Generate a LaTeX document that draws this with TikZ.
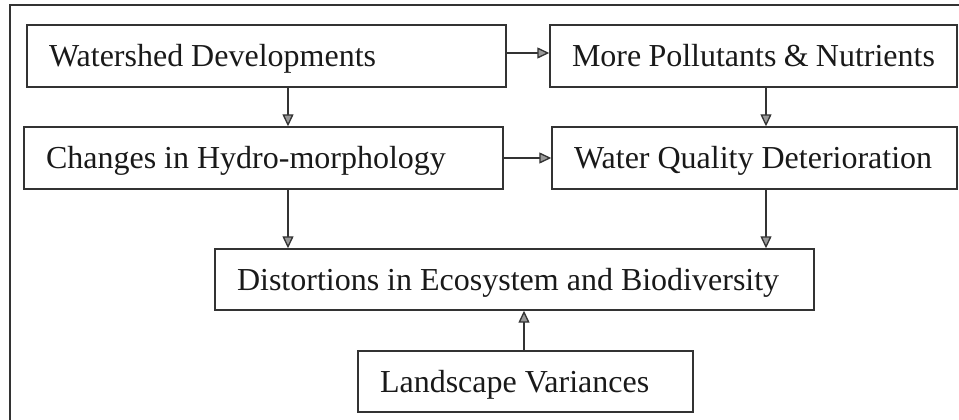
\documentclass[tikz,border=0pt]{standalone}
\usepackage{fontspec}
\setmainfont{Liberation Serif}
\usetikzlibrary{arrows.meta}
\definecolor{ink}{gray}{0.2}
\begin{document}
\begin{tikzpicture}[x=1pt,y=-1pt,
  box/.style={draw=ink, line width=1.4pt, rectangle, inner xsep=22pt,
    inner ysep=0pt, minimum height=62pt, align=flush left,
    text height=21pt, text depth=0pt, text=black!90,
    font=\fontsize{32}{36}\selectfont},
  arr/.style={draw=ink, line width=1.3pt,
    -{Triangle[length=12pt,width=11pt,fill=black!40,line width=1.3pt]}},
  frame/.style={draw=ink, line width=1.8pt}]
\useasboundingbox (0,0) rectangle (959,420);

% outer frame (top and left edges)
\coordinate (fbl) at (10,421);
\coordinate (ftl) at (10,5);
\coordinate (ftr) at (960,5);
\draw[frame] (fbl) -- (ftl) -- (ftr);

% boxes
\node[box, text width=435pt]                      (wd) at (266.5,56)  {Watershed Developments};
\node[box, text width=363pt]                      (pn) at (753.5,56)  {More Pollutants \& Nutrients};
\node[box, text width=435pt]                      (hm) at (263.5,158) {Changes in Hydro-morphology};
\node[box, text width=361pt]                      (wq) at (754.5,158) {Water Quality Deterioration};
\node[box, text width=555pt, minimum height=61pt] (eb) at (514.5,279.5) {Distortions in Ecosystem and Biodiversity};
\node[box, text width=291pt, minimum height=61pt] (lv) at (525.5,381.5) {Landscape Variances};

% connector columns
\coordinate (cL) at (288,0);
\coordinate (cR) at (766,0);
\coordinate (cM) at (524,0);

% connectors
\draw[arr] ([yshift=3pt]wd.east) -- ([yshift=3pt]wd.east -| pn.west);
\draw[arr] (hm.east) -- (hm.east -| wq.west);
\draw[arr] (wd.south -| cL) -- (hm.north -| cL);
\draw[arr] (pn.south -| cR) -- (wq.north -| cR);
\draw[arr] (hm.south -| cL) -- (eb.north -| cL);
\draw[arr] (wq.south -| cR) -- (eb.north -| cR);
\draw[arr] (lv.north -| cM) -- (eb.south -| cM);
\end{tikzpicture}
\end{document}
